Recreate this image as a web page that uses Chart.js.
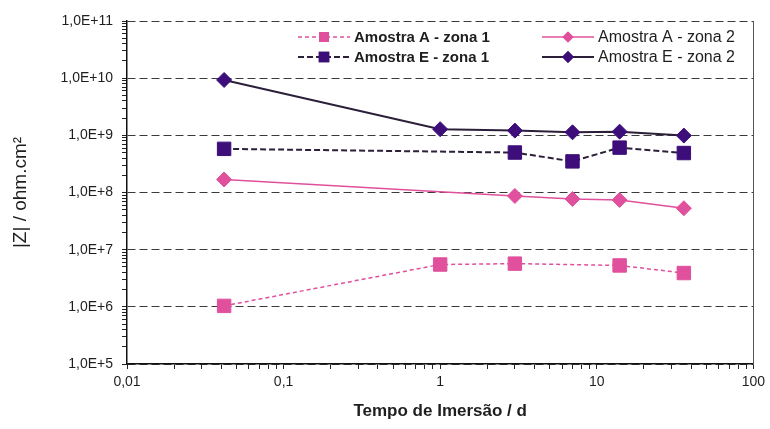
<!DOCTYPE html>
<html>
<head>
<meta charset="utf-8">
<script src="https://cdn.jsdelivr.net/npm/chart.js@4/dist/chart.umd.min.js"></script>
<style>
	html,body{margin:0;padding:0;background:#fff;}
	#wrap{width:770px;height:429px;}
</style>
</head>
<body>
<div id="wrap"><canvas id="impedancia" width="770" height="429"></canvas></div>
<script>
// tempo de imersão (dias)
const X_DAYS = [0.0417, 1, 3, 7, 14, 36];
// |Z| (ohm.cm2), null = sem medida
const A_ZONA1 = [1.04e6, 5.5e6, 5.7e6, null, 5.3e6, 3.9e6];
const A_ZONA2 = [1.69e8, null, 8.7e7, 7.7e7, 7.4e7, 5.3e7];
const E_ZONA1 = [5.8e8, null, 5.0e8, 3.5e8, 6.1e8, 4.9e8];
const E_ZONA2 = [9.3e9, 1.28e9, 1.21e9, 1.13e9, 1.16e9, 9.9e8];
const SERIES_NAMES = ['Amostra A - zona 1', 'Amostra E - zona 1', 'Amostra A - zona 2', 'Amostra E - zona 2'];
const X_TICKS = [0.01, 0.1, 1, 10, 100];
const Y_TICKS = [1e5, 1e6, 1e7, 1e8, 1e9, 1e10, 1e11];

const PINK = '#e0509c';
const PURPLE = '#3d0d7a';
const DARK = '#2b1f3a';

function pts(arr){
	return X_DAYS.map((x,i)=>({x:x, y:arr[i]}));
}
function withMinors(majors){
	let out = [];
	majors.forEach((m,i)=>{
		out.push({value:m});
		if(i < majors.length-1){
			for(let k=2;k<10;k++) out.push({value:m*k});
		}
	});
	return out;
}
function isMajor(v, list){
	return list.some(m=>Math.abs(m-v)/m < 1e-9);
}

// legenda desenhada dentro da área do gráfico
const legendBox = {
	id:'legendBox',
	afterDraw(chart){
		const ctx = chart.ctx;
		const slots = [
			{x:298, y:37, bold:true},
			{x:298, y:57, bold:true},
			{x:542, y:37, bold:false},
			{x:542, y:57, bold:false}
		];
		chart.data.datasets.forEach((ds,i)=>{
			const s = slots[i];
			ctx.save();
			ctx.strokeStyle = ds.borderColor;
			ctx.lineWidth = ds.borderWidth;
			ctx.setLineDash(ds.borderDash || []);
			ctx.beginPath();
			ctx.moveTo(s.x, s.y);
			ctx.lineTo(s.x+52, s.y);
			ctx.stroke();
			ctx.setLineDash([]);
			Chart.helpers.drawPoint(ctx, {
				pointStyle: ds.pointStyle,
				radius: ds.pointStyle==='rect' ? 6 : 4.5,
				borderWidth: 1
			}, s.x+26, s.y);
			ctx.fillStyle = ds.pointBackgroundColor;
			ctx.strokeStyle = ds.pointBorderColor;
			ctx.fill();
			ctx.stroke();
			ctx.fillStyle = '#1e1e1e';
			ctx.textBaseline = 'middle';
			ctx.font = s.bold ? 'bold 15px "Liberation Sans", Arial, sans-serif' : '16px "Liberation Sans", Arial, sans-serif';
			ctx.fillText(ds.label, s.x+56, s.y+1);
			ctx.restore();
		});
	}
};

new Chart(document.querySelector('#impedancia').getContext('2d'), {
	type:'line',
	data:{
		datasets:[{
			label:SERIES_NAMES[0],
			data:pts(A_ZONA1),
			borderColor:PINK, borderWidth:1.5, borderDash:[4,3],
			pointStyle:'rect', pointRadius:9.5,
			pointBackgroundColor:PINK, pointBorderColor:PINK, pointBorderWidth:1
		},{
			label:SERIES_NAMES[1],
			data:pts(E_ZONA1),
			borderColor:DARK, borderWidth:2, borderDash:[6,3],
			pointStyle:'rect', pointRadius:9.5,
			pointBackgroundColor:PURPLE, pointBorderColor:PURPLE, pointBorderWidth:1
		},{
			label:SERIES_NAMES[2],
			data:pts(A_ZONA2),
			borderColor:PINK, borderWidth:1.5,
			pointStyle:'rectRot', pointRadius:7.5,
			pointBackgroundColor:PINK, pointBorderColor:PINK, pointBorderWidth:1
		},{
			label:SERIES_NAMES[3],
			data:pts(E_ZONA2),
			borderColor:DARK, borderWidth:2,
			pointStyle:'rectRot', pointRadius:7.5,
			pointBackgroundColor:PURPLE, pointBorderColor:PURPLE, pointBorderWidth:1
		}]
	},
	options:{
		responsive:false,
		animation:false,
		spanGaps:true,
		layout:{padding:{top:21, right:15, left:0, bottom:0}},
		plugins:{legend:{display:false}, tooltip:{enabled:false}},
		scales:{
			x:{
				type:'logarithmic',
				min:0.01, max:100,
				afterBuildTicks(scale){ scale.ticks = withMinors(X_TICKS); },
				afterFit(scale){ scale.height = 65; },
				ticks:{
					autoSkip:false, maxRotation:0, padding:5,
					color:'#1e1e1e',
					font:{family:'"Liberation Sans", Arial, sans-serif', size:14},
					callback(v){ return isMajor(v, X_TICKS) ? String(v).replace('.', ',') : ''; }
				},
				grid:{drawOnChartArea:false, tickLength:5, tickColor:'#222', tickWidth:1},
				border:{color:'#111', width:1.5},
				title:{
					display:true, text:'Tempo de Imersão / d', color:'#1e1e1e',
					font:{family:'"Liberation Sans", Arial, sans-serif', size:17, weight:'bold'},
					padding:{top:0, bottom:7}
				}
			},
			y:{
				type:'logarithmic',
				min:1e5, max:1e11,
				afterBuildTicks(scale){ scale.ticks = withMinors(Y_TICKS); },
				afterFit(scale){ scale.width = 127; },
				ticks:{
					autoSkip:false, padding:9,
					color:'#1e1e1e',
					font:{family:'"Liberation Sans", Arial, sans-serif', size:14},
					callback(v){ return isMajor(v, Y_TICKS) ? v.toExponential(1).toUpperCase().replace('.', ',') : ''; }
				},
				grid:{
					color(ctx){ return ctx.tick && isMajor(ctx.tick.value, Y_TICKS) ? '#3a3a3a' : 'rgba(0,0,0,0)'; },
					lineWidth:1, tickLength:5, tickColor:'#222', tickWidth:1
				},
				border:{color:'#111', width:1.5, dash:[8,4]},
				title:{
					display:true, text:'|Z| / ohm.cm²', color:'#1e1e1e',
					font:{family:'"Liberation Sans", Arial, sans-serif', size:19},
					padding:{top:9, bottom:0}
				}
			},
			y2:{
				type:'logarithmic', position:'right',
				min:1e5, max:1e11,
				afterFit(scale){ scale.width = 0; },
				ticks:{display:false},
				grid:{drawOnChartArea:false, drawTicks:false},
				border:{color:'#555', width:1}
			}
		}
	},
	plugins:[legendBox]
});
</script>
</body>
</html>
